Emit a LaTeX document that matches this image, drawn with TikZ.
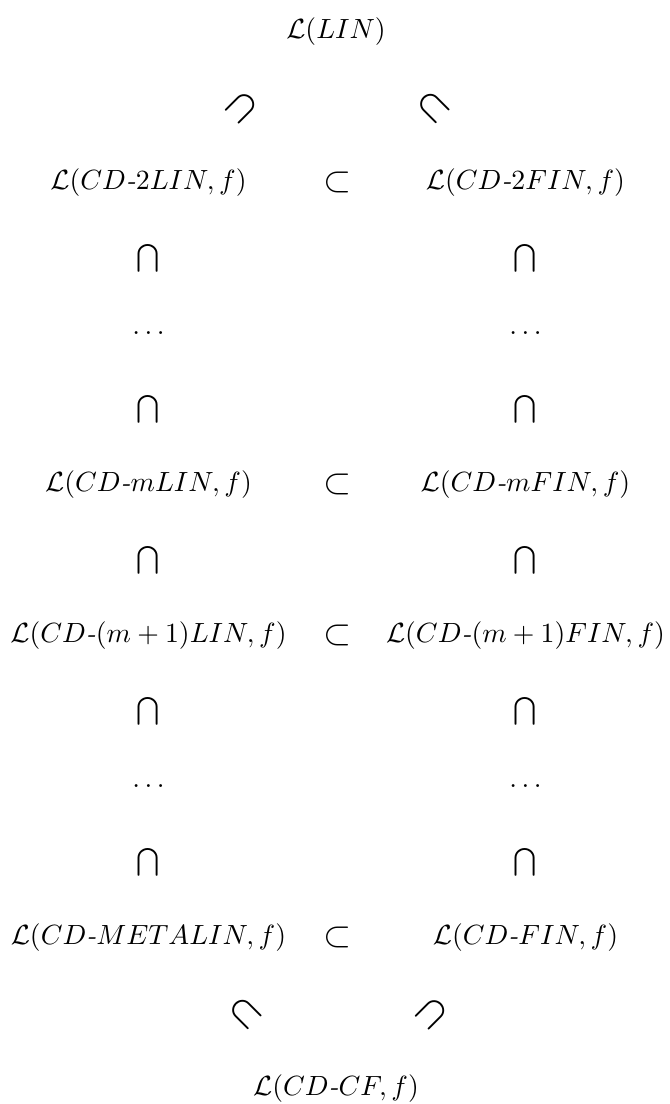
\documentclass[tikz,border=0pt]{standalone}
\usepackage{amssymb}

\begin{document}
\begin{tikzpicture}[x=0.36pt,y=-0.36pt]
  \useasboundingbox (0,0) rectangle (670,1104);
  \tikzset{lang/.style={inner sep=1pt}, incl/.style={inner sep=0pt}}
  \def\lc{148.5}
  \def\rc{525.5}
  \def\hy{\mbox{\textit{-}}}
  \def\bc{$\bigcap$}
  \def\sub{\scalebox{1.3}{$\subset$}}
  % top and bottom
  \node[lang] (lin) at (336,31.5) {$\mathcal{L}(LIN)$};
  \node[incl, rotate=-45] (capTL) at (242,107) {\bc};
  \node[incl, rotate=45] (capTR) at (434,107) {\bc};
  \node[incl, rotate=45] (capBL) at (246,1013) {\bc};
  \node[incl, rotate=-45] (capBR) at (432,1013) {\bc};
  \node[lang] (cf) at (336,1088.5) {$\mathcal{L}(CD\hy CF, f)$};
  % left column
  \node[lang] (l2) at (\lc,182.5) {$\mathcal{L}(CD\hy 2LIN, f)$};
  \node[incl] (lc1) at (\lc,258) {\bc};
  \node[lang] (ld1) at (\lc,333.5) {$\dots$};
  \node[incl] (lc2) at (\lc,409) {\bc};
  \node[lang] (lm) at (\lc,484.5) {$\mathcal{L}(CD\hy mLIN, f)$};
  \node[incl] (lc3) at (\lc,560) {\bc};
  \node[lang] (lm1) at (\lc,635.5) {$\mathcal{L}(CD\hy (m+1)LIN, f)$};
  \node[incl] (lc4) at (\lc,711) {\bc};
  \node[lang] (ld2) at (\lc,786.5) {$\dots$};
  \node[incl] (lc5) at (\lc,862) {\bc};
  \node[lang] (lmeta) at (\lc,937.5) {$\mathcal{L}(CD\hy METALIN, f)$};
  % right column
  \node[lang] (r2) at (\rc,182.5) {$\mathcal{L}(CD\hy 2FIN, f)$};
  \node[incl] (rc1) at (\rc,258) {\bc};
  \node[lang] (rd1) at (\rc,333.5) {$\dots$};
  \node[incl] (rc2) at (\rc,409) {\bc};
  \node[lang] (rm) at (\rc,484.5) {$\mathcal{L}(CD\hy mFIN, f)$};
  \node[incl] (rc3) at (\rc,560) {\bc};
  \node[lang] (rm1) at (\rc,635.5) {$\mathcal{L}(CD\hy (m+1)FIN, f)$};
  \node[incl] (rc4) at (\rc,711) {\bc};
  \node[lang] (rd2) at (\rc,786.5) {$\dots$};
  \node[incl] (rc5) at (\rc,862) {\bc};
  \node[lang] (rfin) at (\rc,937.5) {$\mathcal{L}(CD\hy FIN, f)$};
  % subset signs between the columns
  \foreach \y/\n in {182.5/s2, 484.5/sm, 635.5/sm1, 937.5/smeta}
    \node[incl] (\n) at (338,\y) {\sub};
\end{tikzpicture}
\end{document}
